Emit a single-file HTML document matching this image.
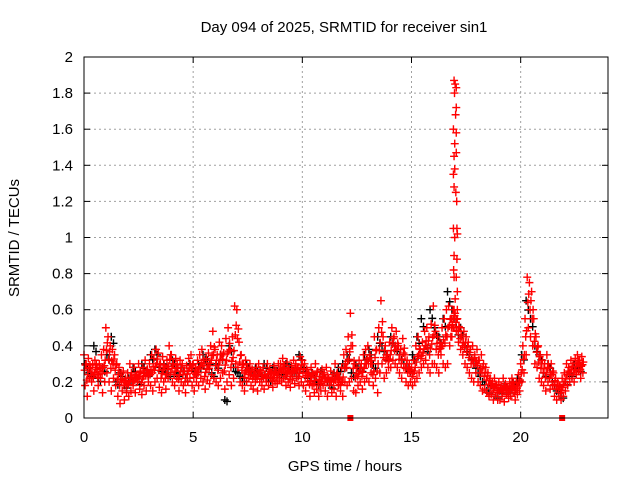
<!DOCTYPE html>
<html><head><meta charset="utf-8"><style>
body{margin:0;background:#fff}
svg{display:block;font-family:"Liberation Sans",sans-serif;font-size:15px}
</style></head><body>
<svg id="chart" width="640" height="480">
<rect width="640" height="480" fill="#fff"/>
<text x="344" y="32" text-anchor="middle">Day 094 of 2025, SRMTID for receiver sin1</text>
<text x="345" y="471" text-anchor="middle">GPS time / hours</text>
<text transform="translate(19,238) rotate(-90)" text-anchor="middle">SRMTID / TECUs</text>
<g id="grid"></g>
<g id="axes"></g>
<g id="marks"></g>
<rect x="84" y="57" width="524" height="361" fill="none" stroke="#000"/>
</svg>
<script>
const xTicks=[0,5,10,15,20];
const yTicks=[0,0.2,0.4,0.6,0.8,1,1.2,1.4,1.6,1.8,2];
const yTickLabels=["0","0.2","0.4","0.6","0.8","1","1.2","1.4","1.6","1.8","2"];
const redStart=0, redStep=0.1;
const redA=[.35,.30,.33,.28,.30,.32,.27,.30,.35,.38,
.50,.45,.40,.38,.35,.30,.28,.25,.26,.22,
.25,.30,.22,.28,.24,.30,.26,.28,.32,.27,
.30,.35,.33,.38,.36,.30,.34,.28,.32,.40,
.35,.30,.33,.28,.32,.30,.26,.29,.33,.35,
.30,.28,.32,.35,.38,.30,.33,.36,.40,.48,
.38,.35,.42,.40,.36,.44,.50,.38,.45,.62,
.60,.42,.35,.30,.32,.28,.30,.27,.26,.28,
.30,.26,.28,.24,.30,.27,.25,.29,.26,.30,
.30,.33,.28,.31,.26,.29,.32,.30,.28,.34,
.32,.30,.27,.25,.28,.24,.30,.26,.23,.27,
.25,.28,.22,.26,.24,.30,.25,.22,.28,.35,
.38,.45,.58,.40,.30,.28,.32,.30,.35,.38,
.40,.35,.30,.45,.38,.50,.65,.45,.40,.35,
.42,.50,.45,.48,.40,.38,.44,.35,.32,.30,
.28,.32,.40,.45,.38,.42,.48,.50,.45,.52,
.62,.48,.45,.42,.50,.55,.60,.62,.55,.60,
.58,.55,.50,.45,.48,.45,.42,.38,.40,.35,
.38,.32,.35,.30,.28,.25,.22,.20,.22,.18,
.20,.18,.22,.19,.17,.20,.22,.18,.20,.24,
.30,.40,.55,.78,.75,.70,.55,.45,.40,.35,
.32,.30,.35,.28,.30,.25,.22,.20,.18,.22,
.25,.30,.28,.32,.30,.33,.35,.32,.34];
const redB=[.18,.12,.22,.20,.15,.24,.18,.22,.14,.20,
.25,.20,.15,.22,.18,.12,.08,.15,.10,.14,
.12,.15,.18,.14,.20,.16,.13,.18,.15,.20,
.18,.15,.20,.22,.17,.14,.20,.16,.22,.25,
.20,.18,.22,.15,.20,.18,.14,.20,.22,.18,
.15,.20,.18,.22,.20,.16,.21,.19,.24,.22,
.20,.18,.22,.25,.16,.20,.24,.18,.22,.30,
.28,.20,.18,.15,.20,.22,.18,.16,.20,.15,
.20,.18,.16,.20,.18,.22,.17,.20,.19,.21,
.20,.22,.18,.20,.17,.21,.19,.22,.18,.20,
.18,.15,.20,.12,.18,.14,.16,.12,.15,.18,
.15,.12,.18,.14,.16,.12,.18,.15,.12,.20,
.18,.20,.22,.15,.14,.18,.20,.16,.20,.22,
.20,.25,.18,.22,.14,.25,.30,.22,.25,.28,
.28,.32,.30,.28,.25,.22,.28,.20,.18,.20,
.18,.20,.22,.25,.28,.30,.32,.28,.25,.30,
.30,.28,.25,.35,.30,.28,.30,.40,.45,.50,
.48,.42,.38,.35,.30,.28,.25,.22,.20,.25,
.20,.18,.15,.16,.14,.12,.13,.10,.12,.10,
.10,.12,.09,.13,.11,.12,.14,.10,.13,.15,
.20,.25,.35,.50,.45,.40,.30,.28,.22,.20,
.18,.15,.20,.16,.18,.12,.10,.12,.10,.12,
.15,.18,.20,.22,.20,.24,.26,.22,.25];
const peakTimes=[16.95,17.0,17.05,16.97,17.05,17.02,16.92,17.05,16.98,16.95,17.05,16.98,16.95,17.03,16.92,17.08,16.98,17.1,16.95,17.08,16.93,16.95,17.05,17.1,17.0,17.1,16.95,16.85,16.9,17.15,16.8,17.2,16.92,17.07];
const peakVals=[1.87,1.85,1.83,1.80,1.72,1.68,1.60,1.58,1.52,1.45,1.47,1.38,1.28,1.25,1.05,1.05,1.00,1.02,0.90,0.88,0.82,0.78,0.78,0.70,0.66,0.60,0.60,0.55,0.50,0.48,0.45,0.50,1.35,1.20];
const redZeroTimes=[12.2,21.9];
const blackStart=0.05, blackStep=0.2;
const blackVals=[.30,.25,.40,.22,.28,.35,.45,.20,.25,.18,
.22,.28,.20,.30,.25,.35,.38,.28,.30,.25,
.32,.25,.28,.22,.30,.26,.30,.35,.32,.25,
.30,.35,.10,.40,.28,.25,.22,.30,.26,.28,
.25,.30,.22,.28,.26,.24,.30,.28,.25,.35,
.28,.22,.25,.20,.26,.22,.18,.25,.28,.30,
.35,.25,.30,.28,.35,.38,.30,.45,.40,.35,
.45,.40,.35,.30,.28,.35,.45,.55,.40,.60,
.50,.45,.55,.70,.60,.50,.50,.40,.35,.30,
.25,.20,.15,.18,.12,.15,.18,.15,.20,.22,
.35,.65,.55,.40,.35,.25,.30,.20,.15,.12,
.20,.25,.30,.28];

const X0=84,X1=608,Y0=418,Y1=57;
const xs=t=>X0+t/24*(X1-X0);
const ys=v=>Y0-v/2*(Y0-Y1);
const NS="http://www.w3.org/2000/svg";
function mk(tag,attrs,parent){const e=document.createElementNS(NS,tag);for(const k in attrs)e.setAttribute(k,attrs[k]);parent.appendChild(e);return e;}
const grid=document.getElementById('grid'),axes=document.getElementById('axes'),marks=document.getElementById('marks');
yTicks.forEach((v,i)=>{
  const y=ys(v);
  if(i>0&&i<yTicks.length-1){const g=mk('line',{x1:X0,x2:X1,y1:y,y2:y,stroke:'#a0a0a0','stroke-dasharray':'2,3'},grid);
  
  }
  mk('line',{x1:X0,x2:X0+6,y1:y,y2:y,stroke:'#000'},axes);
  mk('line',{x1:X1,x2:X1-6,y1:y,y2:y,stroke:'#000'},axes);
  const t=mk('text',{x:73,y:y+5,'text-anchor':'end'},axes);t.textContent=yTickLabels[i];
  
  
});
xTicks.forEach(v=>{
  const x=xs(v);
  if(v>0){const g=mk('line',{x1:x,x2:x,y1:Y0,y2:Y1,stroke:'#a0a0a0','stroke-dasharray':'2,3'},grid);
  
  }
  mk('line',{x1:x,x2:x,y1:Y0,y2:Y0-6,stroke:'#000'},axes);
  mk('line',{x1:x,x2:x,y1:Y1,y2:Y1+6,stroke:'#000'},axes);
  const t=mk('text',{x:x,y:442,'text-anchor':'middle'},axes);t.textContent=String(v);
  
  
});
function plus(t,v,color,name){
  const x=xs(t),y=ys(v);
  const p=mk('path',{d:`M${x-4},${y}h8M${x},${y-4}v8`,stroke:color,'stroke-width':1.4,fill:'none'},marks);
  
  
}
blackVals.forEach((v,i)=>plus(blackStart+i*blackStep,v,'#000','black-point'));
blackVals.forEach((v,i)=>plus(blackStart+i*blackStep+0.1,v*0.92,'#000','black-point'));
redA.forEach((v,i)=>plus(redStart+i*redStep,v,'#ff0000','red-point'));
redB.forEach((v,i)=>plus(redStart+i*redStep+0.05,v,'#ff0000','red-point'));
redA.forEach((v,i)=>plus(redStart+i*redStep+0.03,(v+redB[i])/2,'#ff0000','red-point'));
redA.forEach((v,i)=>plus(redStart+i*redStep+0.07,(2*v+redB[i])/3,'#ff0000','red-point'));
peakVals.forEach((v,i)=>plus(peakTimes[i],v,'#ff0000','red-peak-point'));
redZeroTimes.forEach(t=>{
  const r=mk('rect',{x:xs(t)-3,y:Y0-3,width:6,height:6,fill:'#ff0000'},marks);
  
  
});
</script>
</body></html>
